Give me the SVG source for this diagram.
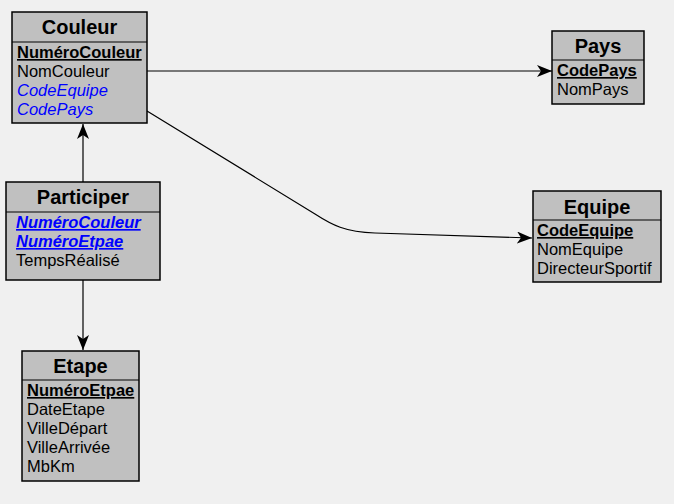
<svg xmlns="http://www.w3.org/2000/svg" width="674" height="504" viewBox="0 0 674 504">
<style>
.box{fill:#c0c0c0;stroke:#000;stroke-width:1.5}
.sep{stroke:#000;stroke-width:1.2}
.title{font-family:"Liberation Sans",Arial,sans-serif;font-size:20px;font-weight:bold;fill:#000;text-anchor:middle}
.attr{font-family:"Liberation Sans",Arial,sans-serif;font-size:16.5px;fill:#000}
.pk{font-weight:bold;text-decoration:underline}
.fk{font-style:italic;fill:#0000ff}
.conn{fill:none;stroke:#000;stroke-width:1.2}
</style>
<defs>
<marker id="arr" markerUnits="userSpaceOnUse" viewBox="0 0 15 12" refX="15" refY="6" markerWidth="15" markerHeight="12" orient="auto">
<path d="M0,0 L15,6 L0,12 L4,6 z" fill="#000"/>
</marker>
</defs>
<rect width="674" height="504" fill="#f0f0f0"/>
<g id="connectors">
<path class="conn" d="M147,71 L552,71" marker-end="url(#arr)"/>
<path class="conn" d="M147,111 L315,214 C332,225 345,232 375,233 L532,238" marker-end="url(#arr)"/>
<path class="conn" d="M83,182 L83,124" marker-end="url(#arr)"/>
<path class="conn" d="M83,280 L83,350" marker-end="url(#arr)"/>
</g>
<g id="Couleur">
<rect class="box" x="12" y="12" width="135" height="111"/>
<line class="sep" x1="12" y1="42" x2="147" y2="42"/>
<text class="title" x="79.5" y="34">Couleur</text>
<text class="attr pk" x="17" y="58">NuméroCouleur</text>
<text class="attr" x="17" y="77">NomCouleur</text>
<text class="attr fk" x="17" y="96">CodeEquipe</text>
<text class="attr fk" x="17" y="115">CodePays</text>
</g>
<g id="Participer">
<rect class="box" x="6" y="182" width="154" height="98"/>
<line class="sep" x1="6" y1="212" x2="160" y2="212"/>
<text class="title" x="83" y="204">Participer</text>
<text class="attr pk fk" x="16" y="228">NuméroCouleur</text>
<text class="attr pk fk" x="16" y="247">NuméroEtpae</text>
<text class="attr" x="16" y="266">TempsRéalisé</text>
</g>
<g id="Etape">
<rect class="box" x="22" y="351" width="117" height="130"/>
<line class="sep" x1="22" y1="380" x2="139" y2="380"/>
<text class="title" x="80.5" y="373">Etape</text>
<text class="attr pk" x="27" y="396">NuméroEtpae</text>
<text class="attr" x="27" y="415">DateEtape</text>
<text class="attr" x="27" y="434">VilleDépart</text>
<text class="attr" x="27" y="453">VilleArrivée</text>
<text class="attr" x="27" y="472">MbKm</text>
</g>
<g id="Pays">
<rect class="box" x="552" y="31" width="92" height="73"/>
<line class="sep" x1="552" y1="60" x2="644" y2="60"/>
<text class="title" x="598" y="53">Pays</text>
<text class="attr pk" x="557" y="76">CodePays</text>
<text class="attr" x="557" y="95">NomPays</text>
</g>
<g id="Equipe">
<rect class="box" x="533" y="191" width="128" height="91"/>
<line class="sep" x1="533" y1="220" x2="661" y2="220"/>
<text class="title" x="597" y="214">Equipe</text>
<text class="attr pk" x="537" y="236">CodeEquipe</text>
<text class="attr" x="537" y="255">NomEquipe</text>
<text class="attr" x="537" y="274">DirecteurSportif</text>
</g>
</svg>
